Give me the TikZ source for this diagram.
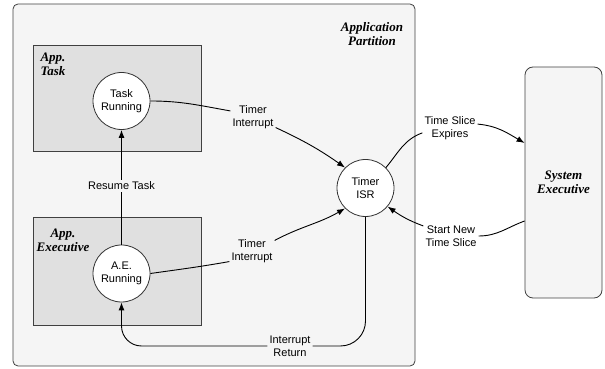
\documentclass[tikz,border=0pt]{standalone}
\usepackage{fontspec}
\setmainfont{Liberation Sans}
\newfontfamily\titlefont{Liberation Serif}
\usetikzlibrary{shapes, arrows.meta, positioning, calc}

\begin{document}
\begin{tikzpicture}[
    x=1pt, y=1pt,
    partition/.style={rectangle, draw=black!75, fill=black!4, line width=0.8pt, rounded corners=5pt, minimum width=402pt, minimum height=362pt, inner sep=0pt},
    layer/.style={rectangle, draw=black!75, fill=black!12, line width=0.8pt, minimum width=168pt, inner sep=0pt},
    sysbox/.style={rectangle, draw=black!75, fill=black!4, line width=0.8pt, rounded corners=8pt, minimum width=77pt, minimum height=231pt, inner sep=0pt},
    state/.style={circle, draw=black!80, fill=white, line width=0.8pt, minimum size=57pt, inner sep=0pt, align=center, font=\fontsize{11}{13}\selectfont},
    title/.style={align=center, font=\titlefont\bfseries\itshape\fontsize{13}{14}\selectfont},
    lbl/.style={align=center, inner sep=2pt, font=\fontsize{11}{13}\selectfont},
    arrow/.style={-{Latex[length=8pt, width=6pt]}, line width=0.9pt},
    link/.style={line width=0.9pt}
]

% Canvas
\useasboundingbox (0,0) rectangle (605,369);

% Application partition and its layers
\node[partition] (part) at (214,184) {};
\node[title] (partlbl) at (372,335) {Application\\Partition};
\node[layer, minimum height=106pt] (taskbox) at (117,271) {};
\node[title] (tasklbl) at (53,305) {App.\\Task};
\node[layer, minimum height=108pt] (execbox) at (117,98) {};
\node[title] (execlbl) at (63,129) {App.\\Executive};

% States
\node[state] (taskrun) at (121.5,268) {Task\\Running};
\node[state] (aerun) at (121.5,95.5) {A.E.\\Running};
\node[state] (isr) at (365.5,181) {Timer\\ISR};

% System executive
\node[sysbox, title] (sysexec) at (563.5,186.5) {System\\Executive};

% Connector labels
\node[lbl] (ti1) at (253,252) {Timer\\Interrupt};
\node[lbl] (ti2) at (252,118) {Timer\\Interrupt};
\node[lbl] (resume) at (121.5,183) {Resume Task};
\node[lbl] (irl) at (290,23) {Interrupt\\Return};
\node[lbl] (tse) at (450,241) {Time Slice\\Expires};
\node[lbl] (snl) at (451,133) {Start New\\Time Slice};

% Interrupts into the ISR
\draw[link] (taskrun.east) to[out=0, in=170] (ti1.165);
\draw[arrow] (ti1.-25) to[out=-25, in=145] (isr.135);
\draw[link] (aerun.east) to[out=8, in=190] (ti2.205);
\draw[arrow] (ti2.25) to[out=28, in=210] (isr.225);

% Resume and return
\draw[link] (aerun.north) -- (resume.south);
\draw[arrow] (resume.north) -- (taskrun.south);
\draw[link, rounded corners=25pt] (isr.south) |- (irl.east);
\draw[arrow, rounded corners=20pt] (irl.west) -| (aerun.south);

% Time slices
\draw[link] (isr.45) to[out=50, in=200] (tse.190);
\draw[arrow] (tse.8) to[out=-5, in=150] ($(sysexec.west)+(0,39.5)$);
\draw[link] ($(sysexec.west)+(0,-38.5)$) to[out=200, in=0] (snl.east);
\draw[arrow] (snl.160) to[out=160, in=-35] (isr.-40);

\end{tikzpicture}
\end{document}
